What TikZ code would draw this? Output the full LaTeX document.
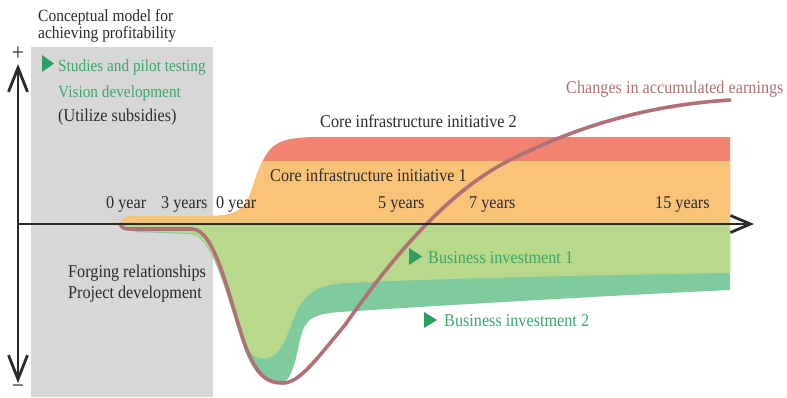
\documentclass[tikz,border=0pt]{standalone}
\usepackage{fontspec}
\setmainfont[FakeStretch=0.9]{Liberation Serif}
\usetikzlibrary{arrows.meta}
\definecolor{panelgray}{HTML}{D7D7D7}
\definecolor{coretwo}{HTML}{F38371}
\definecolor{coreone}{HTML}{FBC377}
\definecolor{bizone}{HTML}{B8D98B}
\definecolor{biztwo}{HTML}{80CB9E}
\definecolor{earn}{HTML}{B07075}
\definecolor{greentext}{HTML}{3AA66B}
\definecolor{greentri}{HTML}{2E9E63}
\definecolor{ink}{HTML}{2A2A2A}
\tikzset{
  lbl/.style={inner sep=0pt, anchor=base west, text=ink, font=\fontsize{18}{20}\selectfont},
  greenlbl/.style={lbl, text=greentext},
  panelgreen/.style={greenlbl, font=\fontsize{17}{19}\selectfont},
  titlelbl/.style={lbl, font=\fontsize{17.2}{18}\selectfont},
  signlbl/.style={lbl, anchor=center, font=\fontsize{24}{24}\selectfont},
  tri/.style={fill=greentri, draw=none},
  axisline/.style={draw=ink, line width=2.8pt},
}
\begin{document}
\begin{tikzpicture}[x=1pt,y=-1pt]
\useasboundingbox (0,0) rectangle (787,397);
% gray panel
\fill[panelgray] (31,47) rectangle (213,397);
% core infrastructure bands
\def\coreoutline{(120,224) .. controls (122,217) and (128,216) .. (140,216) -- (210,216) .. controls (232,216) and (243,212) .. (250,195) .. controls (256,178) and (258,168) .. (266,155) .. controls (275,140) and (290,137) .. (320,137) -- (730,137) -- (730,224) -- cycle}
\fill[coretwo] \coreoutline;
\begin{scope}
\clip \coreoutline;
\fill[coreone] (100,161) rectangle (740,226);
\end{scope}
% business investments
\fill[biztwo] (122,224) -- (135,232) -- (190,234) .. controls (212,235) and (225,290) .. (242,342) .. controls (252,372) and (262,383) .. (280,383) .. controls (295,383) and (297,345) .. (303,330) .. controls (308,318) and (315,314) .. (340,312) .. controls (450,305) and (600,296) .. (730,290) -- (730,224) -- cycle;
\fill[bizone] (122,224) -- (135,231) -- (190,233) .. controls (212,234) and (226,290) .. (243,340) .. controls (250,356) and (255,358) .. (265,358) .. controls (285,358) and (290,320) .. (300,305) .. controls (310,290) and (320,285) .. (345,283) .. controls (450,278) and (600,275) .. (730,273) -- (730,224) -- cycle;
% earnings curve
\coordinate (e0) at (120,224);
\coordinate (e1) at (730,100);
\draw[earn, line width=3.6pt, line cap=round] (e0) .. controls (123,229) and (125,229) .. (132,229) -- (192,229) .. controls (215,229) and (228,295) .. (245,345) .. controls (258,378) and (268,383) .. (283,383) .. controls (300,383) and (318,357) .. (345,325) .. controls (380,275) and (440,195) .. (510,160) .. controls (580,125) and (650,105) .. (e1);
% axes
\coordinate (ytop) at (18,64);
\coordinate (ybot) at (18,383);
\coordinate (xl) at (18,224);
\coordinate (xr) at (754,224);
\draw[axisline, {Straight Barb[length=24pt,width=19pt]}-{Straight Barb[length=24pt,width=19pt]}] (ytop) -- (ybot);
\draw[axisline, -{Straight Barb[length=20pt,width=17pt]}] (xl) -- (xr);
\node[signlbl] (plus) at (18,54) {+};
\node[signlbl] (minus) at (18,389) {−};
% title
\node[titlelbl] (t1) at (38,21) {Conceptual model for};
\node[titlelbl] (t2) at (38,38) {achieving profitability};
% panel texts
\fill[tri] (42,55) -- (54,63.5) -- (42,72) -- cycle;
\node[panelgreen] (s1) at (58,71) {Studies and pilot testing};
\node[panelgreen] (s2) at (58,97) {Vision development};
\node[lbl] (s3) at (58,121) {(Utilize subsidies)};
\node[lbl] (f1) at (68,277) {Forging relationships};
\node[lbl] (f2) at (68,298) {Project development};
% axis labels
\node[lbl] (y0a) at (106,208) {0 year};
\node[lbl] (y3) at (161,208) {3 years};
\node[lbl] (y0b) at (216,208) {0 year};
\node[lbl] (y5) at (378,208) {5 years};
\node[lbl] (y7) at (469,208) {7 years};
\node[lbl] (y15) at (655,208) {15 years};
% band labels
\node[lbl] (c2) at (320,127) {Core infrastructure initiative 2};
\node[lbl] (c1) at (270,181) {Core infrastructure initiative 1};
\node[lbl, text=earn] (ce) at (566,93) {Changes in accumulated earnings};
\fill[tri] (409,248) -- (422,256.5) -- (409,265) -- cycle;
\node[greenlbl] (b1) at (428,263) {Business investment 1};
\fill[tri] (424,312) -- (437,320) -- (424,328) -- cycle;
\node[greenlbl] (b2) at (444,326) {Business investment 2};
\end{tikzpicture}
\end{document}
